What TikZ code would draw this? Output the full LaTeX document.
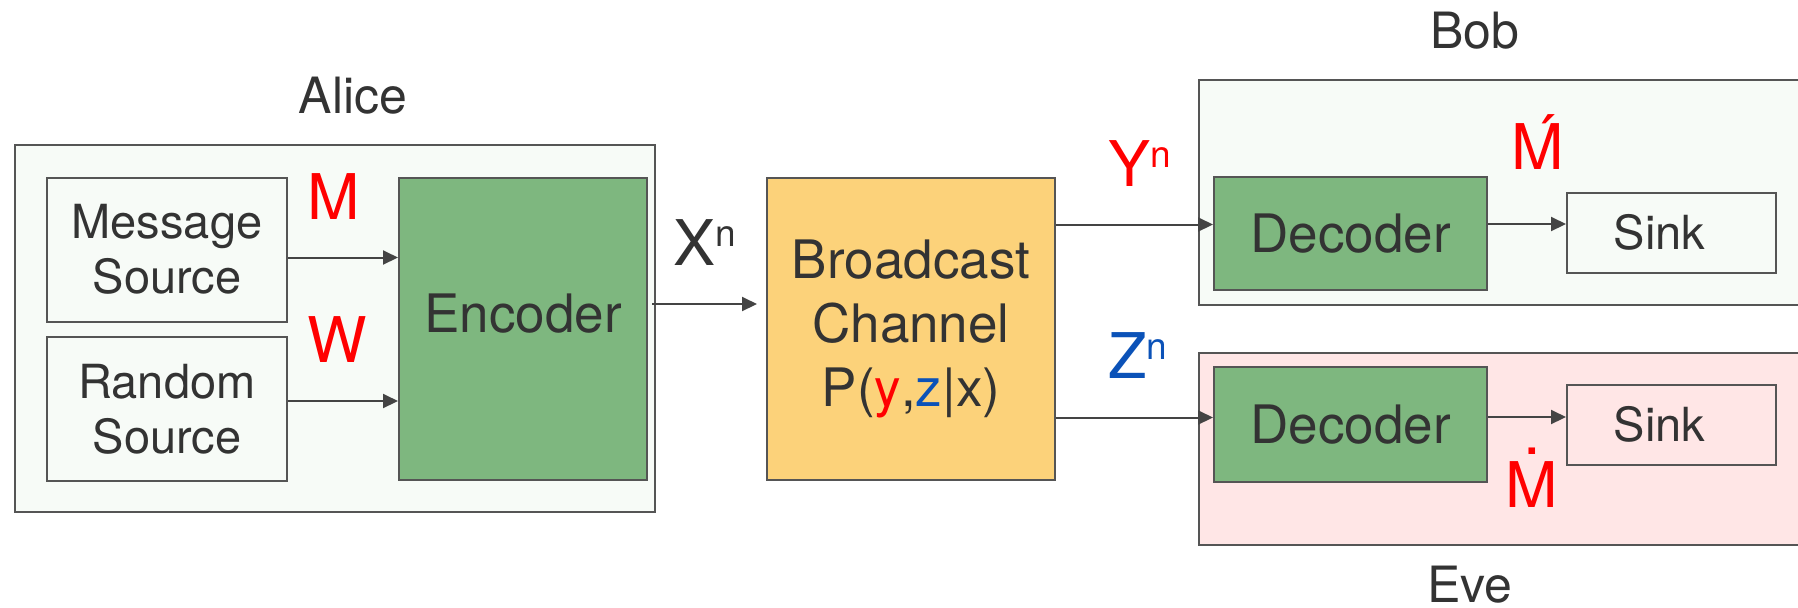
\documentclass[tikz,border=0pt]{standalone}
\usepackage{fontspec}
\setmainfont{TeX Gyre Heros}
\usetikzlibrary{arrows.meta, calc, positioning}

\definecolor{txtgray}{HTML}{333333}
\definecolor{linegray}{HTML}{555555}
\definecolor{arrgray}{HTML}{444444}
\definecolor{palegreen}{HTML}{F7FBF7}
\definecolor{palepink}{HTML}{FFE6E6}
\definecolor{encgreen}{HTML}{7EB77F}
\definecolor{chanyellow}{HTML}{FCD27A}
\definecolor{symred}{HTML}{FF0000}
\definecolor{symblue}{HTML}{0B52B8}

\newcommand{\bigtxt}{\fontsize{26.5}{32}\selectfont}
\newcommand{\smltxt}{\fontsize{23.5}{27.5}\selectfont}
\newcommand{\whotxt}{\fontsize{25}{30}\selectfont}
\newcommand{\symtxt}{\fontsize{31.5}{36}\selectfont}
\newcommand{\suptxt}{\fontsize{18.5}{20}\selectfont}
\newcommand{\upn}{\raisebox{9.5pt}{\suptxt n}}
\newlength{\mwd}
\newcommand{\acM}{\settowidth{\mwd}{M}\makebox[0pt][l]{M}%
  \makebox[\mwd]{\hspace*{6pt}\raisebox{4.5pt}{´}}}
\newcommand{\dtM}{\settowidth{\mwd}{M}\makebox[0pt][l]{M}%
  \makebox[\mwd]{\raisebox{26.5pt}{.}}}

\begin{document}
\begin{tikzpicture}[
  x=0.5pt, y=-0.5pt,
  every node/.style={text=txtgray},
  box/.style={draw=linegray, line width=1pt, inner sep=0pt, align=center},
  srcbox/.style={box, fill=palegreen, minimum width=120pt, minimum height=72pt,
                 font=\smltxt},
  greenbox/.style={box, fill=encgreen, font=\bigtxt},
  sinkbox/.style={box, minimum width=104.5pt, minimum height=40pt, font=\smltxt},
  layer/.style={draw=linegray, line width=1pt, inner sep=0pt},
  who/.style={font=\whotxt, anchor=base, inner sep=0pt},
  sym/.style={font=\symtxt, anchor=base, inner sep=0pt},
  arr/.style={-{Triangle[length=7.5pt, width=7pt]}, line width=1pt, draw=arrgray},
]
  \useasboundingbox (0,0) rectangle (1798,607);
  \fill[white] (0,0) rectangle (1798,607);

  %% -- Alice --
  \node[layer, fill=palegreen, minimum width=320pt, minimum height=183.5pt]
    (alice) at (335, 328) {};
  \node[who] (alicelbl) at (353, 113) {Alice};
  \node[srcbox] (msg) at (167, 249.5) {Message\\Source};
  \node[srcbox] (rnd) at (167, 409) {Random\\Source};
  \node[greenbox, minimum width=124pt, minimum height=151pt, text depth=16pt]
    (enc) at (523, 329) {Encoder};

  %% -- channel --
  \node[box, fill=chanyellow, minimum width=144pt, minimum height=151pt,
        font=\bigtxt] (ch) at (911, 328.5)
    {Broadcast\\Channel\\P(\textcolor{symred}{y},\textcolor{symblue}{z}|x)};

  %% -- Bob --
  \node[layer, fill=palegreen, minimum width=305.5pt, minimum height=112.5pt]
    (bob) at (1504.5, 192.5) {};
  \node[who] (boblbl) at (1475, 48) {Bob};
  \node[greenbox, minimum width=136.5pt, minimum height=56.5pt]
    (bdec) at (1350.5, 233.5) {Decoder};
  \node[sinkbox, fill=palegreen] (bsink) at (1671.5, 232.5) {Sink\hspace*{12pt}};

  %% -- Eve --
  \node[layer, fill=palepink, minimum width=305.5pt, minimum height=96pt]
    (eve) at (1504.5, 449) {};
  \node[who] (evelbl) at (1470, 602) {Eve};
  \node[greenbox, minimum width=136.5pt, minimum height=57.5pt]
    (edec) at (1350.5, 424.5) {Decoder};
  \node[sinkbox, fill=palepink] (esink) at (1671.5, 424.5) {Sink\hspace*{12pt}};

  %% -- symbols --
  \node[sym, text=symred] (msym) at (334, 219) {M};
  \node[sym, text=symred] (wsym) at (337, 362) {W};
  \node[sym, anchor=base west] (xsym) at (673, 265) {X\upn};
  \node[sym, anchor=base west, text=symred] (ysym) at (1108, 186) {Y\upn};
  \node[sym, anchor=base west, text=symblue] (zsym) at (1108, 378) {Z\upn};
  \node[sym, text=symred] (mbob) at (1538, 169) {\acM};
  \node[sym, text=symred] (meve) at (1532, 507) {\dtM};

  %% -- arrows --
  \coordinate (mpt) at ($(msg.east)+(0,8)$);
  \draw[arr] (mpt) -- (mpt -| enc.west);
  \coordinate (rpt) at ($(rnd.east)+(0,-8)$);
  \draw[arr] (rpt) -- (rpt -| enc.west);

  \coordinate (xpt) at ($(enc.east)+(4,-25)$);
  \draw[arr, shorten >=4.5pt] (xpt) -- (xpt -| ch.west);

  \coordinate (ypt) at ($(bdec.west)+(0,-9)$);
  \draw[arr] (ch.east |- ypt) -- (ypt);
  \coordinate (zpt) at ($(edec.west)+(0,-7)$);
  \draw[arr] (ch.east |- zpt) -- (zpt);

  \coordinate (bspt) at ($(bsink.west)+(0,-8.5)$);
  \draw[arr] (bdec.east |- bspt) -- (bspt);
  \coordinate (espt) at ($(esink.west)+(0,-7.5)$);
  \draw[arr] (edec.east |- espt) -- (espt);
\end{tikzpicture}
\end{document}
